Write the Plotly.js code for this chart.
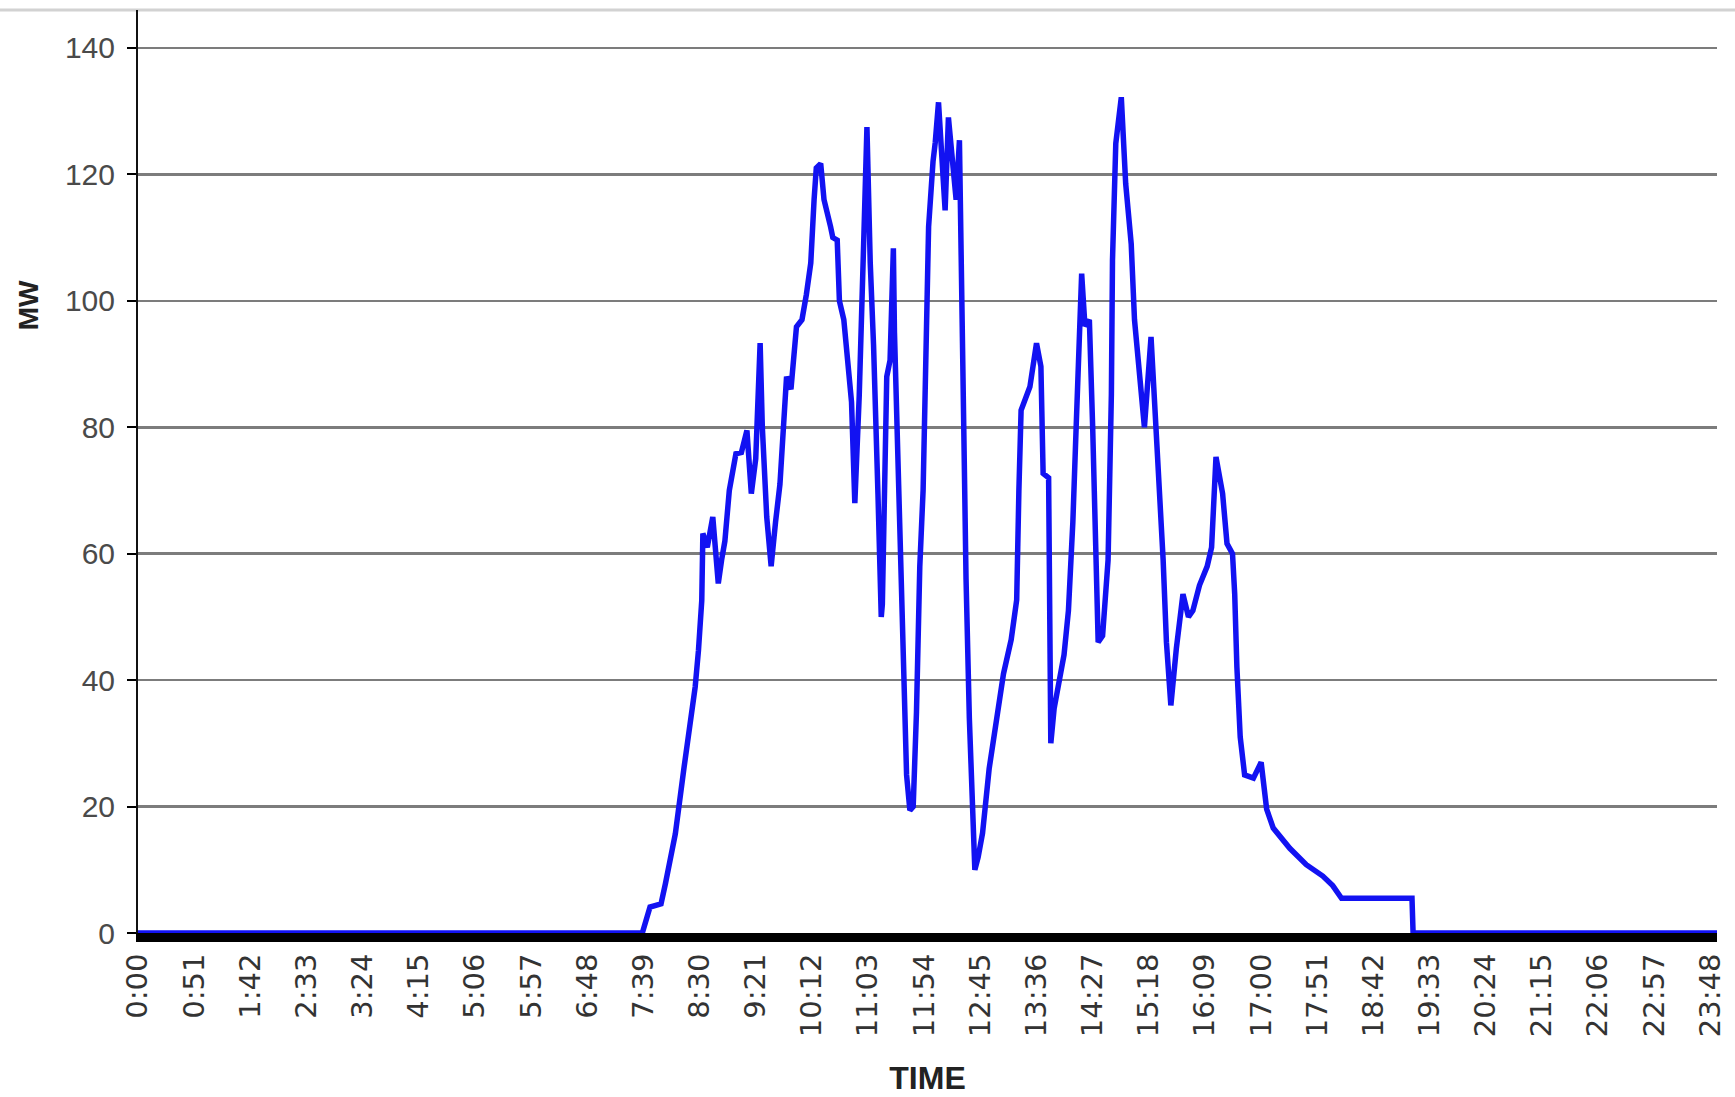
<!DOCTYPE html>
<html>
<head>
<meta charset="utf-8">
<script src="https://cdn.plot.ly/plotly-3.0.1.min.js"></script>
<style>
  html, body { margin: 0; padding: 0; background: #ffffff; }
  #chart { width: 1735px; height: 1097px; }
</style>
</head>
<body>
<div id="chart"></div>
<script>
// Time of each reading (H:MM) and output power (MW)
const times = [
  "0:00","7:38","7:45","7:55","7:59","8:08","8:16","8:20","8:26",
  "8:29","8:32","8:33","8:37","8:42","8:47","8:50","8:53","8:57","9:03",
  "9:08","9:13","9:17","9:21","9:25","9:27","9:31","9:35","9:39","9:43",
  "9:49","9:53","9:58","10:03","10:07","10:11","10:14","10:16","10:20","10:23",
  "10:29","10:31","10:35","10:37","10:41","10:44","10:48","10:51","10:55","10:59",
  "11:02","11:05","11:08","11:12","11:15","11:16","11:20","11:23","11:26","11:27",
  "11:30","11:32","11:35","11:38","11:41","11:44","11:47","11:50","11:53","11:56",
  "11:58","12:02","12:04","12:07","12:10","12:13","12:16","12:21","12:23","12:26",
  "12:27","12:29","12:32","12:35","12:40","12:43","12:47","12:53","13:00","13:06",
  "13:13","13:18","13:20","13:22","13:30","13:36","13:40","13:42","13:47","13:49",
  "13:52","13:56","14:01","14:05","14:09","14:12","14:17","14:20","14:24","14:27",
  "14:30","14:32","14:36","14:38","14:41","14:44","14:45","14:48","14:53","14:57",
  "15:02","15:05","15:10","15:14","15:20","15:23","15:26","15:31","15:34","15:38",
  "15:43","15:49","15:54","15:58","16:04","16:11","16:15","16:19","16:25","16:29",
  "16:34","16:36","16:38","16:41","16:45","16:53","17:00","17:05","17:11","17:26",
  "17:41","17:56","18:05","18:13","19:17","19:18","23:59"
];
const mw = [
  0,0,4.1,4.6,7.8,15.7,26.3,31.5,38.9,
  44.7,52.6,63.2,61,65.8,55.3,59,62,70,75.8,
  76,79.5,69.5,75,93.3,80,65.8,58,65,71,
  88,86,95.9,97,101,106,116,121,121.7,116,
  111.7,110,109.6,100,97,92,84,68,85,109,
  127.5,106,93,69.5,50,52,88,90.6,108.3,95,
  74.8,58,40,25,19.4,20,35,58,70,90.6,
  111.7,122,125,131.4,122,114.3,129,118,116,125.4,
  111.7,82,56,34,10,12,15.8,26,34.3,41,
  46.4,52.7,70,82.7,86.4,93.3,89.6,72.7,72,30,
  35.5,39,44,51,65,80,104.3,96,97,80,
  56,46,47,53,59,85.3,106.4,124.9,132.2,118.5,
  109,97,88,80,94.3,85.3,74.8,59,46,36,
  45,53.6,50,51,55,58,61,75.3,69.5,61.6,
  60,53.6,42,31,25,24.5,27,19.6,16.6,13.4,
  10.8,9,7.5,5.5,5.5,0,0
];
// Category tick labels shown on the time axis
const tickLabels = [
  "0:00","0:51","1:42","2:33","3:24","4:15","5:06","5:57","6:48","7:39",
  "8:30","9:21","10:12","11:03","11:54","12:45","13:36","14:27","15:18","16:09",
  "17:00","17:51","18:42","19:33","20:24","21:15","22:06","22:57","23:48"
];
const xTitle = "TIME";
const yTitle = "MW";

function toMinutes(s) {
  const p = s.split(":");
  return parseInt(p[0], 10) * 60 + parseInt(p[1], 10);
}
const xMin = times.map(toMinutes);
const tickVals = tickLabels.map(toMinutes);

const trace = {
  type: "scatter",
  mode: "lines",
  x: xMin,
  y: mw,
  line: { color: "#1212f2", width: 5.5 },
  hoverinfo: "skip"
};

const W = 1735, H = 1097;
const L = 138, R = 18, T = 10, B = 164;
const plotW = W - L - R;

const layout = {
  width: W,
  height: H,
  margin: { l: L, r: R, t: T, b: B, pad: 0 },
  paper_bgcolor: "#ffffff",
  plot_bgcolor: "#ffffff",
  showlegend: false,
  hovermode: false,
  xaxis: {
    type: "linear",
    range: [0, 1434],
    tickmode: "array",
    tickvals: tickVals,
    ticktext: tickLabels,
    tickangle: -90,
    ticks: "",
    showgrid: false,
    zeroline: false,
    showline: true,
    linecolor: "#000000",
    linewidth: 9,
    tickfont: { family: "DejaVu Sans, Liberation Sans, Arial, sans-serif", size: 29, color: "#333333" },
    title: {
      text: xTitle,
      font: { family: "Liberation Sans, Arial, sans-serif", size: 32, color: "#222222", weight: "bold" },
      standoff: 34
    }
  },
  yaxis: {
    range: [0, 146],
    tick0: 0,
    dtick: 20,
    ticks: "outside",
    ticklen: 9,
    tickwidth: 2,
    tickcolor: "#000000",
    showgrid: true,
    gridcolor: "#7c7c7c",
    gridwidth: 2.5,
    zeroline: false,
    showline: true,
    linecolor: "#111111",
    linewidth: 2,
    ticklabelstandoff: 6,
    tickfont: { family: "Liberation Sans Narrow, Arial Narrow, Liberation Sans, Arial, sans-serif", size: 30, color: "#4a4a4a" }
  },
  annotations: [
    {
      text: "<b>" + yTitle + "</b>",
      xref: "paper", yref: "paper",
      x: -110 / plotW, y: 0.68,
      xanchor: "center", yanchor: "middle",
      textangle: -90,
      showarrow: false,
      font: { family: "Liberation Sans, Arial, sans-serif", size: 28, color: "#222222" }
    }
  ],
  shapes: [
    {
      type: "line",
      xref: "paper", yref: "paper",
      x0: -L / plotW, x1: (W - L) / plotW,
      y0: 1, y1: 1,
      line: { color: "#d2d2d2", width: 3 },
      layer: "below"
    }
  ]
};

Plotly.newPlot("chart", [trace], layout, { displayModeBar: false, staticPlot: true });
</script>
</body>
</html>
